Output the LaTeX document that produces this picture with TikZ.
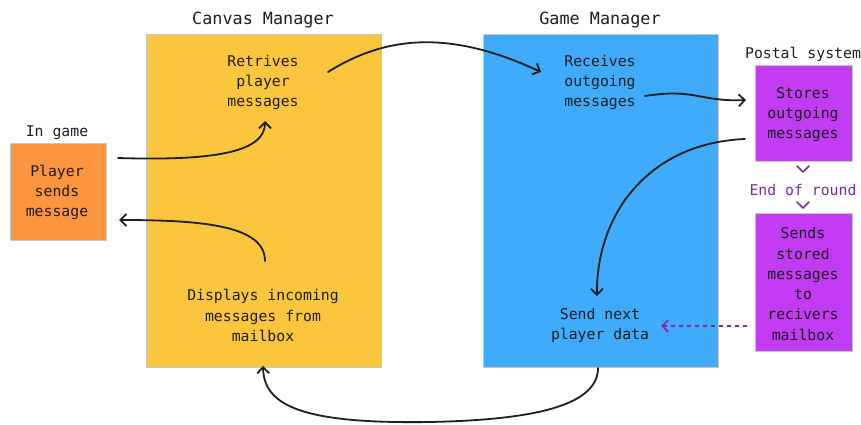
\documentclass[tikz,border=0pt]{standalone}
\usepackage{fontspec}
\setmonofont{DejaVu Sans Mono}
\usetikzlibrary{arrows.meta}
\definecolor{inkc}{HTML}{1E1E1E}
\definecolor{orangefill}{HTML}{FC9540}
\definecolor{yellowfill}{HTML}{FAC63E}
\definecolor{bluefill}{HTML}{3FABFA}
\definecolor{purplefill}{HTML}{C23CF4}
\definecolor{purpleink}{HTML}{7A2A9E}
\definecolor{edgegray}{HTML}{C8C8C8}
\tikzset{
  panel/.style={draw=edgegray, line width=0.5pt, anchor=north west, inner sep=0pt},
  body/.style={font=\ttfamily\fontsize{14.8}{20.3}\selectfont, text=inkc, align=center, inner sep=0pt},
  heading/.style={font=\ttfamily\fontsize{16.8}{20}\selectfont, text=inkc, inner sep=0pt},
  flow/.style={draw=inkc, line width=1.8pt, line cap=round, -{Straight Barb[length=6pt,width=12pt,line width=1.8pt]}},
  dashflow/.style={draw=purpleink, line width=1.6pt, dash pattern=on 4pt off 4pt, -{Straight Barb[length=6pt,width=12pt,line width=1.6pt]}},
  chev/.style={draw=purpleink, line width=1.6pt, line cap=round, line join=round},
}
\begin{document}
\begin{tikzpicture}[x=1pt, y=-1pt]
\useasboundingbox (0,0) rectangle (861,425);

% panels
\node[panel, fill=orangefill, minimum width=96pt, minimum height=97pt] (ingame) at (10,143) {};
\node[panel, fill=yellowfill, minimum width=235pt, minimum height=333pt] (canvas) at (146,34) {};
\node[panel, fill=bluefill, minimum width=235pt, minimum height=333pt] (gamemgr) at (483,34) {};
\node[panel, fill=purplefill, minimum width=97pt, minimum height=96pt] (store) at (755,65) {};
\node[panel, fill=purplefill, minimum width=97pt, minimum height=138pt] (send) at (755,213) {};

% headings
\node[heading] (hcanvas) at (263,20.5) {Canvas Manager};
\node[heading] (hgame) at (600,20.5) {Game Manager};
\node[body] (hingame) at (57,132.5) {In game};
\node[body] (hpostal) at (803,54.5) {Postal system};
\node[body, text=purpleink] (eor) at (803,189.5) {End of round};

% texts
\node[body] (tplayer) at (57,192.5) {Player\\sends\\message};
\node[body] (tretr) at (263,82.5) {Retrives\\player\\messages};
\node[body] (tdisp) at (263,315.5) {Displays incoming\\messages from\\mailbox};
\node[body] (trecv) at (600,82.5) {Receives\\outgoing\\messages};
\node[body] (tnext) at (600,325.5) {Send next\\player data};
\node[body] (tstore) at (803,114.5) {Stores\\outgoing\\messages};
\node[body] (tsend) at (803,284) {Sends\\stored\\messages\\to\\recivers\\mailbox};

% connector end points
\coordinate (a1s) at (118,158);
\coordinate (a1e) at (265,121);
\coordinate (a2s) at (265,261);
\coordinate (a2e) at (119,220);
\coordinate (a3s) at (328,72);
\coordinate (a3e) at (541,72);
\coordinate (a4s) at (645,96);
\coordinate (a4e) at (746,100);
\coordinate (a5s) at (745,139);
\coordinate (a5e) at (597,296);
\coordinate (a6s) at (598,368);
\coordinate (a6m) at (430,422);
\coordinate (a6e) at (263,366);
\coordinate (a7s) at (747,326);
\coordinate (a7e) at (661,326);

% connectors
\draw[flow] (a1s) .. controls (215,161) and (265,152) .. (a1e);
\draw[flow] (a2s) .. controls (265,226) and (205,220) .. (a2e);
\draw[flow] (a3s) .. controls (390,33) and (455,32) .. (a3e);
\draw[flow] (a4s) .. controls (695,88) and (700,102) .. (a4e);
\draw[flow] (a5s) .. controls (648,143) and (596,215) .. (a5e);
\draw[flow] (a6s) .. controls (598,408) and (525,420) .. (a6m)
               .. controls (300,424) and (264,405) .. (a6e);
\draw[dashflow] (a7s) -- (a7e);

% chevrons around the round marker
\draw[chev] (797,166) -- (803,172) -- (809,166);
\draw[chev] (797,202) -- (803,208) -- (809,202);
\end{tikzpicture}
\end{document}
